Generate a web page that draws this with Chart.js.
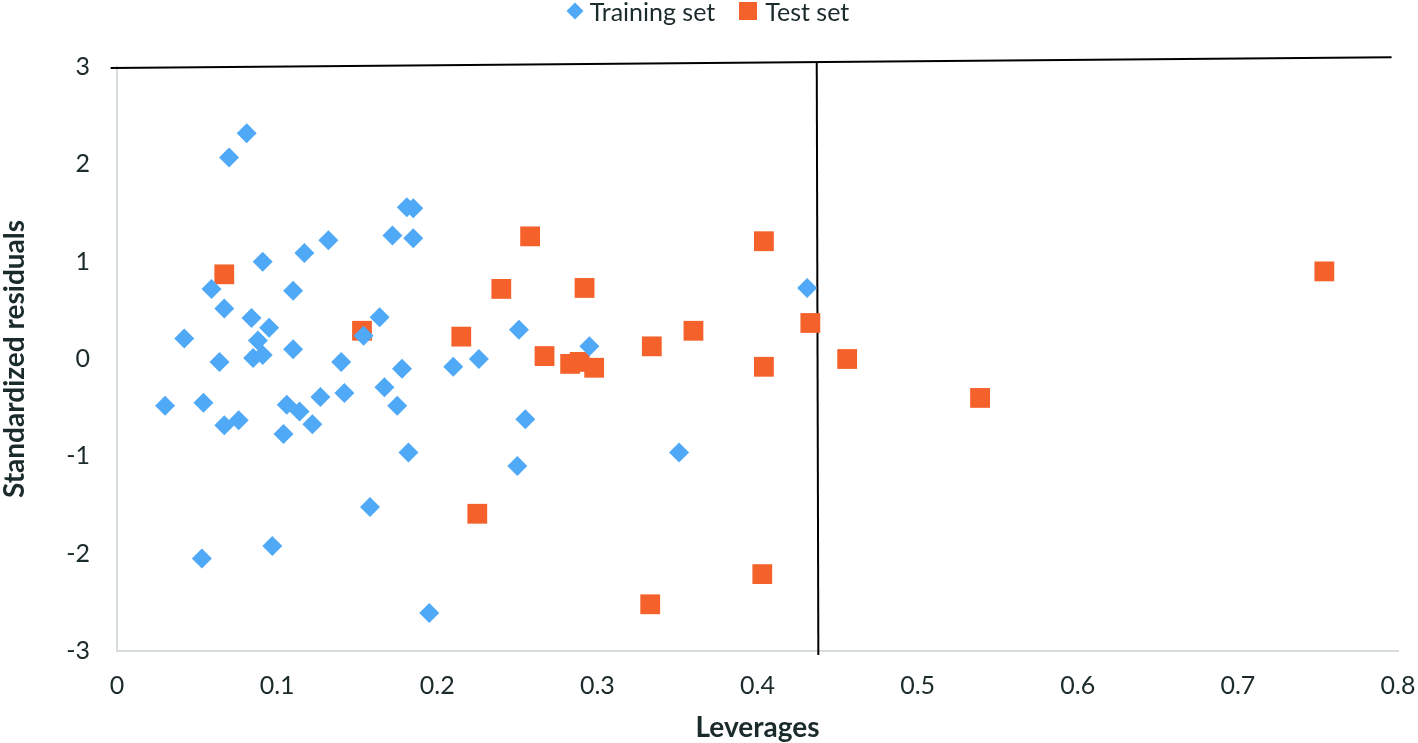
<!DOCTYPE html>
<html>
<head>
<meta charset="utf-8">
<script src="https://cdn.jsdelivr.net/npm/chart.js"></script>
<style>
  html, body { margin: 0; background: #fff; overflow: hidden; }
  #wrap { position: relative; width: 1418px; height: 743px; }
  #myChart { display: block; }
  #legend {
    position: absolute; top: 0; left: 0; width: 100%; height: 22px;
    display: flex; justify-content: center; align-items: center;
    font: 25px Lato, sans-serif; color: #1b2a2a; line-height: 22px;
  }
  .diamond { width: 12px; height: 12px; background: #4fa9f7; transform: rotate(45deg); margin: 0 9px 0 0; }
  .square { width: 18px; height: 18px; background: #f5612b; margin: 0 8px 0 24px; }
</style>
</head>
<body>
<div id="wrap">
  <canvas id="myChart" width="1418" height="743"></canvas>
  <div id="legend">
    <span class="diamond"></span><span>Training set</span>
    <span class="square"></span><span>Test set</span>
  </div>
</div>
<script>
// training set (leverage, standardized residual)
const trainLev = [0.081, 0.070, 0.181, 0.185, 0.172, 0.185, 0.132, 0.117, 0.091, 0.059,
  0.110, 0.431, 0.067, 0.084, 0.164, 0.095, 0.251, 0.042, 0.088, 0.154,
  0.295, 0.110, 0.085, 0.091, 0.064, 0.140, 0.226, 0.210, 0.178, 0.167,
  0.030, 0.054, 0.106, 0.114, 0.127, 0.142, 0.175, 0.076, 0.067, 0.122,
  0.104, 0.255, 0.182, 0.351, 0.250, 0.158, 0.053, 0.097, 0.195];
const trainRes = [2.32, 2.07, 1.56, 1.55, 1.27, 1.24, 1.22, 1.09, 1.00, 0.72,
  0.70, 0.73, 0.52, 0.42, 0.43, 0.32, 0.30, 0.21, 0.19, 0.24,
  0.13, 0.10, 0.01, 0.04, -0.03, -0.03, 0.00, -0.08, -0.10, -0.29,
  -0.48, -0.45, -0.47, -0.54, -0.39, -0.35, -0.48, -0.63, -0.68, -0.67,
  -0.77, -0.62, -0.96, -0.96, -1.10, -1.52, -2.05, -1.92, -2.61];

// test set
const testLev = [0.067, 0.153, 0.215, 0.240, 0.258, 0.292, 0.267, 0.283, 0.289, 0.298,
  0.334, 0.360, 0.404, 0.404, 0.433, 0.456, 0.539, 0.754, 0.225, 0.333, 0.403];
const testRes = [0.87, 0.29, 0.23, 0.72, 1.26, 0.73, 0.03, -0.05, -0.03, -0.09,
  0.13, 0.29, 1.21, -0.08, 0.37, 0.00, -0.40, 0.90, -1.59, -2.52, -2.21];

// drawn limit lines (residual = 3 and warning leverage h*)
const limitLev = [-0.004, 0.796];
const limitRes = [2.99, 3.10];
const hStarLev = [0.437, 0.438];
const hStarRes = [3.04, -3.04];

const xTicks = [0, 0.1, 0.2, 0.3, 0.4, 0.5, 0.6, 0.7, 0.8];
const yTicks = [-3, -2, -1, 0, 1, 2, 3];

const toPoints = (xs, ys) => xs.map((x, i) => ({ x: x, y: ys[i] }));

const ctx = document.getElementById("myChart").getContext("2d");
new Chart(ctx, {
  type: "scatter",
  data: {
    datasets: [
      {
        label: "Training set",
        data: toPoints(trainLev, trainRes),
        pointStyle: "rectRot",
        pointRadius: 10,
        pointBorderWidth: 0,
        backgroundColor: "#4fa9f7",
        borderColor: "#4fa9f7",
      },
      {
        label: "Test set",
        data: toPoints(testLev, testRes),
        pointStyle: "rect",
        pointRadius: 14,
        pointBorderWidth: 0,
        backgroundColor: "#f5612b",
        borderColor: "#f5612b",
      },
      {
        label: "limit",
        data: toPoints(limitLev, limitRes),
        showLine: true,
        pointRadius: 0,
        borderColor: "#000",
        borderWidth: 2,
        clip: false,
      },
      {
        label: "h*",
        data: toPoints(hStarLev, hStarRes),
        showLine: true,
        pointRadius: 0,
        borderColor: "#000",
        borderWidth: 2,
        clip: false,
      },
    ],
  },
  options: {
    responsive: false,
    animation: false,
    layout: { padding: { top: 67, right: 20, left: 0, bottom: 0 } },
    plugins: {
      legend: { display: false },
      tooltip: { enabled: false },
    },
    scales: {
      x: {
        type: "linear",
        min: 0,
        max: 0.8,
        afterBuildTicks: (scale) => {
          scale.ticks = xTicks.map((v) => ({ value: v }));
        },
        afterFit: (scale) => {
          scale.height = 92;
          scale.paddingLeft = 0;
          scale.paddingRight = 0;
        },
        grid: { display: false, drawTicks: false },
        border: { display: true, color: "#d6dddc", width: 2 },
        ticks: {
          padding: 20,
          color: "#1b2a2a",
          font: { family: "Lato", size: 25 },
          maxRotation: 0,
          callback: (v) => String(Math.round(v * 10) / 10),
        },
        title: {
          display: true,
          text: "Leverages",
          color: "#1b2a2a",
          font: { family: "Lato", size: 28, weight: "bold" },
          padding: { top: 0, bottom: -2 },
        },
      },
      y: {
        type: "linear",
        min: -3,
        max: 3,
        afterBuildTicks: (scale) => {
          scale.ticks = yTicks.map((v) => ({ value: v }));
        },
        afterFit: (scale) => {
          scale.width = 117;
          scale.paddingTop = 0;
          scale.paddingBottom = 0;
        },
        grid: { display: false, drawTicks: false },
        border: { display: true, color: "#d6dddc", width: 2 },
        ticks: {
          padding: 27,
          color: "#1b2a2a",
          font: { family: "Lato", size: 25 },
        },
        title: {
          display: true,
          text: "Standardized residuals",
          color: "#1b2a2a",
          font: { family: "Lato", size: 28, weight: "bold" },
          padding: { top: -2, bottom: 0 },
        },
      },
    },
  },
});
</script>
</body>
</html>
